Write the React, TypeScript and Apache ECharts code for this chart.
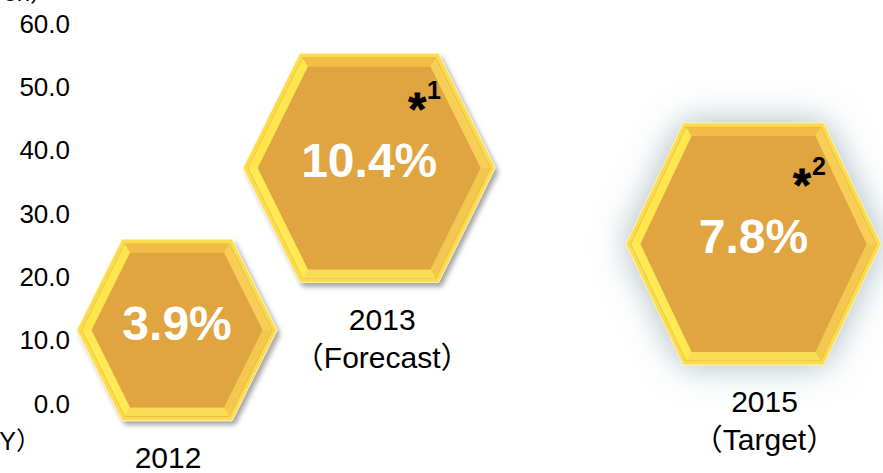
import React, { useEffect, useRef } from "react";
import * as echarts from "echarts";

// ---- data ----
const years = [2012, 2013, 2015];
const ratioTexts = ["3.9%", "10.4%", "7.8%"];
const levels = [11.6, 37.2, 25.2];
const yearLabels = ["2012", "2013\n（Forecast）", "2015\n（Target）"];
const notes = ["", "1", "2"];
const yTickMin = 0;
const yTickMax = 60;
const yTickStep = 10;
const yAxisUnit = "（Billion yen）";
const xAxisUnit = "（FY）";

// ---- styling (sizes of each hexagon picture, label nudges) ----
const hexW = [200, 252, 255];
const hexH = [181, 229, 242];
const labelDx = [-9, 13, 11];
const FONT = "'Liberation Sans', Arial, 'Noto Sans CJK JP', sans-serif";

type Pt = [number, number];

function hexPoints(cx: number, cy: number, w: number, h: number): Pt[] {
  const a = w * 0.275, c = w / 2, b = h / 2;
  return [
    [cx - c, cy],
    [cx - a, cy - b],
    [cx + a, cy - b],
    [cx + c, cy],
    [cx + a, cy + b],
    [cx - a, cy + b],
  ];
}

function inset(pts: Pt[], d: number): Pt[] {
  const n = pts.length;
  let mx = 0, my = 0;
  pts.forEach((p) => { mx += p[0]; my += p[1]; });
  mx /= n; my /= n;
  const lines = pts.map((p, i) => {
    const q = pts[(i + 1) % n];
    const dx = q[0] - p[0], dy = q[1] - p[1];
    const len = Math.hypot(dx, dy);
    let nx = -dy / len, ny = dx / len;
    if ((mx - p[0]) * nx + (my - p[1]) * ny < 0) { nx = -nx; ny = -ny; }
    return { px: p[0] + nx * d, py: p[1] + ny * d, dx, dy };
  });
  const out: Pt[] = [];
  for (let i = 0; i < n; i++) {
    const l1 = lines[(i - 1 + n) % n], l2 = lines[i];
    const cr = l1.dx * l2.dy - l1.dy * l2.dx;
    const t = ((l2.px - l1.px) * l2.dy - (l2.py - l1.py) * l2.dx) / cr;
    out.push([l1.px + t * l1.dx, l1.py + t * l1.dy]);
  }
  return out;
}

const faceColors = ["#ffe64c", "#f1bd46", "#f7cf55", "#f4c74e", "#fbdc55", "#ffe955"];

export default function App() {
  const ref = useRef<HTMLDivElement>(null);
  useEffect(() => {
    if (!ref.current) return;
    const chart = echarts.init(ref.current, undefined, { renderer: "svg" });
    const data = years.map((y, i) => [y, levels[i], i]);
    chart.setOption({
      animation: false,
      grid: { left: 81, right: 33.4, top: 23.5, bottom: 69.5 },
      xAxis: { type: "value", min: 2011.5, max: 2015.5, show: false },
      yAxis: {
        type: "value",
        min: yTickMin,
        max: yTickMax,
        interval: yTickStep,
        axisLine: { show: false },
        axisTick: { show: false },
        splitLine: { show: false },
        axisLabel: {
          formatter: (v: number) => v.toFixed(1),
          fontSize: 26,
          color: "#000",
          fontFamily: FONT,
          margin: 11,
        },
      },
      graphic: [
        {
          type: "text",
          x: 54,
          y: 4,
          style: {
            text: yAxisUnit, fontSize: 24, fontFamily: FONT, fill: "#000",
            align: "right", verticalAlign: "bottom",
          },
        },
        {
          type: "text",
          x: 41,
          y: 441,
          style: {
            text: xAxisUnit, fontSize: 25, fontFamily: FONT, fill: "#000",
            align: "right", verticalAlign: "middle",
          },
        },
      ],
      series: [
        {
          type: "custom",
          clip: false,
          data,
          renderItem: (params: any, api: any) => {
            const i = api.value(2);
            const [cx, cy] = api.coord([api.value(0), api.value(1)]);
            const w = hexW[i], h = hexH[i];
            const P0 = hexPoints(cx, cy, w, h);
            const P1 = inset(P0, 4.5);
            const P2 = inset(P0, 13);
            const glow = i === 2;
            const children: any[] = [];
            children.push({
              type: "polygon",
              shape: { points: P0 },
              style: {
                fill: "#fbdb4f",
                stroke: "#fff0a0",
                lineWidth: 1,
                shadowBlur: glow ? 34 : 5,
                shadowColor: glow ? "rgba(110,140,150,0.6)" : "rgba(0,0,0,0.35)",
                shadowOffsetX: glow ? 0 : 3,
                shadowOffsetY: glow ? 0 : 4,
              },
            });
            children.push({
              type: "polygon",
              shape: { points: P1 },
              style: { fill: "#f7d24c", stroke: "#e9b843", lineWidth: 1.2 },
            });
            for (let k = 0; k < 6; k++) {
              const a = P1[k], b = P1[(k + 1) % 6], c = P2[(k + 1) % 6], d = P2[k];
              children.push({
                type: "polygon",
                shape: { points: [a, b, c, d] },
                style: { fill: faceColors[k] },
              });
            }
            children.push({
              type: "polygon",
              shape: { points: P2 },
              style: { fill: "#e0a541" },
            });
            children.push({
              type: "text",
              style: {
                text: ratioTexts[i], x: cx, y: cy - 7,
                fill: "#fff", fontSize: 48, fontWeight: "bold", fontFamily: FONT,
                align: "center", verticalAlign: "middle",
              },
            });
            if (notes[i]) {
              const ax = cx + w * 0.19;
              children.push({
                type: "text",
                style: {
                  text: "*", x: ax, y: cy - 59,
                  fill: "#000", fontSize: 46, fontWeight: "bold", fontFamily: FONT,
                  align: "center", verticalAlign: "middle",
                  stroke: "#000", lineWidth: 0.8,
                },
              });
              children.push({
                type: "text",
                style: {
                  text: notes[i], x: ax + 10, y: cy - 78,
                  fill: "#000", fontSize: 25, fontWeight: "bold", fontFamily: FONT,
                  align: "left", verticalAlign: "middle",
                },
              });
            }
            const lines = yearLabels[i].split("\n");
            lines.forEach((t, j) => {
              children.push({
                type: "text",
                style: {
                  text: t, x: cx + labelDx[i], y: cy + h / 2 + 37 + j * 38,
                  fill: "#000", fontSize: 30, fontFamily: FONT,
                  align: "center", verticalAlign: "middle",
                },
              });
            });
            return { type: "group", children };
          },
        },
      ],
    });
    return () => chart.dispose();
  }, []);
  return (
    <div
      ref={ref}
      style={{ position: "fixed", left: 0, top: 0, width: 883, height: 473, background: "#fff" }}
    />
  );
}
